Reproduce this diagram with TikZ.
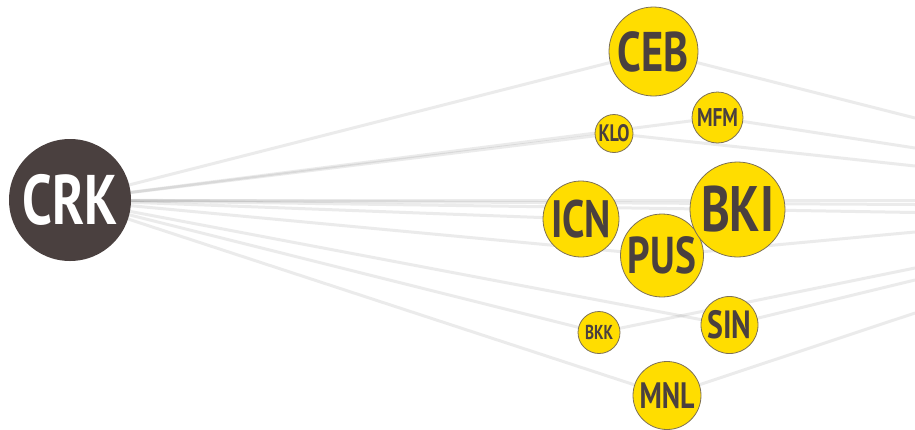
\documentclass[tikz,border=0pt]{standalone}
\usepackage{fontspec}
\newfontfamily\labfont[FakeStretch=0.76]{PT Sans}
\definecolor{ink}{RGB}{74,64,63}
\definecolor{sun}{RGB}{255,221,0}
\definecolor{rim}{RGB}{125,112,85}
\newcommand\lab[2]{\resizebox{#1pt}{!}{\labfont\bfseries #2}}
\begin{document}
\begin{tikzpicture}[x=1pt,y=-1pt,
  edge/.style={draw=black,opacity=0.08,line width=3pt},
  ap/.style={circle,fill=sun,draw=rim,line width=0.8pt,inner sep=0pt,text=ink},
  hub/.style={circle,fill=ink,inner sep=0pt,text=white}]
\useasboundingbox (0,0) rectangle (915,429);
% coordinates of node centres
\coordinate (cCRK) at (70,200);
\coordinate (cCEB) at (653.5,51.5);
\coordinate (cMFM) at (717.5,117.5);
\coordinate (cKLO) at (614,133.5);
\coordinate (cBKI) at (737.5,209.5);
\coordinate (cICN) at (581,219);
\coordinate (cPUS) at (662,255.5);
\coordinate (cSIN) at (729.5,325);
\coordinate (cBKK) at (599,332.5);
\coordinate (cMNL) at (667,395.5);
% free ends on the right border
\coordinate (r1) at (915,200);
\coordinate (r2) at (915,204.5);
\coordinate (rCEB) at (915,118);
\coordinate (rMFM) at (915,148);
\coordinate (rKLO) at (915,166);
\coordinate (rBKI) at (915,212.5);
\coordinate (rPUS) at (915,232);
\coordinate (rBKK) at (915,268);
\coordinate (rSIN) at (915,280);
\coordinate (rMNL) at (915,313);
% connectors
\foreach \t in {cCEB,cKLO,cMFM,cICN,cBKI,cPUS,cSIN,cBKK,cMNL,r1,r2}
  \draw[edge] (cCRK) -- (\t);
\foreach \s in {CEB,MFM,KLO,BKI,PUS,BKK,SIN,MNL}
  \draw[edge] (c\s) -- (r\s);
% nodes
\node[hub,minimum size=122pt] (CRK) at (cCRK) {\lab{95}{CRK}};
\node[ap,minimum size=89pt] (CEB) at (cCEB) {\lab{71}{CEB}};
\node[ap,minimum size=51pt] (MFM) at (cMFM) {\lab{41}{MFM}};
\node[ap,minimum size=38pt] (KLO) at (cKLO) {\lab{31}{KLO}};
\node[ap,minimum size=76pt] (ICN) at (cICN) {\lab{60}{ICN}};
\node[ap,minimum size=83pt] (PUS) at (cPUS) {\lab{68}{PUS}};
\node[ap,minimum size=95pt] (BKI) at (cBKI) {\lab{73}{BKI}};
\node[ap,minimum size=57pt] (SIN) at (cSIN) {\lab{44}{SIN}};
\node[ap,minimum size=42pt] (BKK) at (cBKK) {\lab{28}{BKK}};
\node[ap,minimum size=68pt] (MNL) at (cMNL) {\lab{55}{MNL}};
\end{tikzpicture}
\end{document}
